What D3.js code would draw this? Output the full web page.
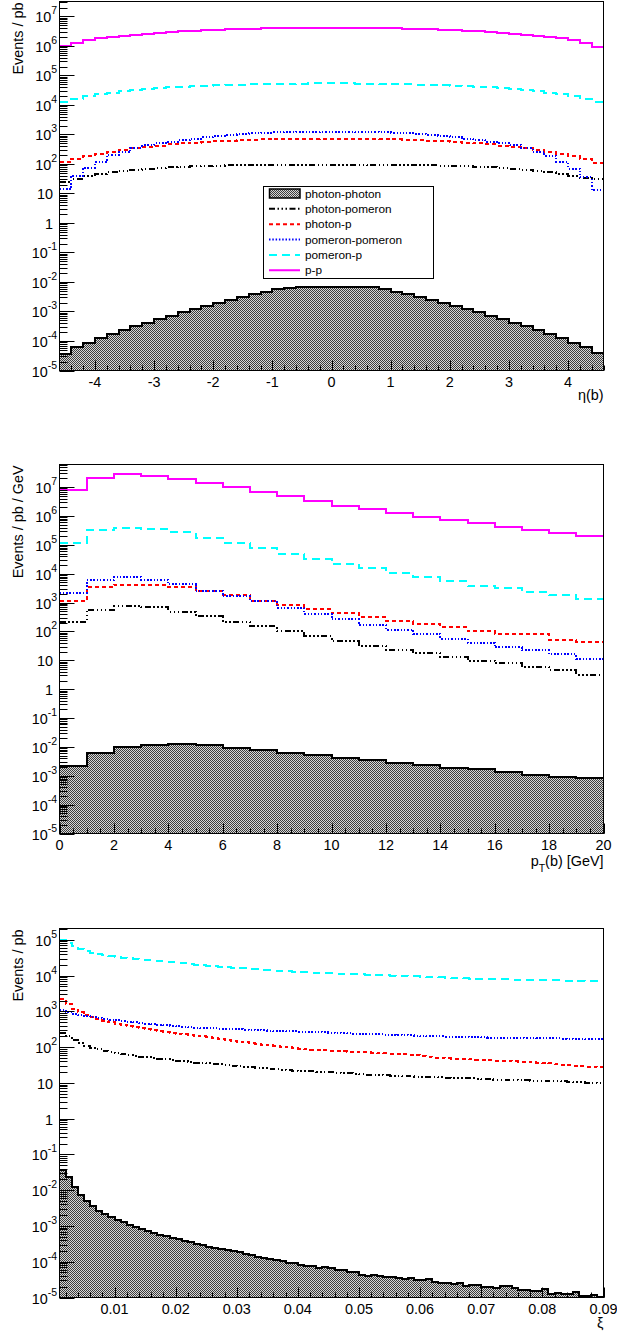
<!DOCTYPE html>
<html>
<head>
<meta charset="utf-8">
<script src="https://cdn.jsdelivr.net/npm/d3@7"></script>
<style>
  body { margin: 0; background: #fff; }
  text { font-family: "Liberation Sans", Arial, Helvetica, sans-serif; fill: #000; }
</style>
</head>
<body>
<div id="chart"></div>
<script>
// Series names, in legend / drawing order
const seriesNames = ["photon-photon", "photon-pomeron", "photon-p", "pomeron-pomeron", "pomeron-p", "p-p"];

// ---- eta(b) panel: 46 bins of 0.2 from -4.6 to 4.6 ----
const etaBinLow = -4.6, etaBinWidth = 0.2;
const etaPhotonPhoton = [3.6e-5, 6.1e-5, 8.8e-5, 1.22e-4, 1.72e-4, 2.4e-4, 3.2e-4, 4.2e-4, 5.5e-4, 7.2e-4,
  9.7e-4, 1.22e-3, 1.54e-3, 2.0e-3, 2.4e-3, 3.1e-3, 3.9e-3, 4.7e-3, 5.6e-3, 6.5e-3,
  6.9e-3, 6.9e-3, 6.9e-3, 6.9e-3, 6.9e-3, 6.9e-3, 6.9e-3, 5.6e-3, 4.7e-3, 3.9e-3,
  3.2e-3, 2.45e-3, 2.0e-3, 1.55e-3, 1.2e-3, 9.5e-4, 7.3e-4, 5.6e-4, 4.2e-4, 3.2e-4,
  2.35e-4, 1.73e-4, 1.24e-4, 8.8e-5, 6.1e-5, 4.0e-5];
const etaPhotonPomeron = [25, 32, 38, 45, 52, 58, 64, 69, 74, 78, 81, 84, 86, 88, 89, 90, 91, 92, 93, 93, 94, 94, 94,
  94, 94, 94, 93, 93, 92, 91, 90, 89, 88, 86, 84, 81, 78, 74, 69, 64, 58, 52, 45, 38, 33, 30];
const etaPhotonP = [115, 150, 185, 220, 260, 300, 340, 380, 420, 460, 500, 535, 565, 600, 625, 645, 665, 680, 695, 705, 710, 715, 720,
  720, 715, 710, 705, 695, 680, 665, 645, 625, 600, 565, 535, 500, 460, 420, 380, 340, 300, 260, 220, 185, 150, 110];
const etaPomeronPomeron = [14, 40, 75, 115, 200, 250, 360, 440, 500, 560, 640, 720, 810, 900, 970, 1030, 1090, 1140, 1180, 1210, 1230, 1250, 1260,
  1260, 1250, 1230, 1210, 1180, 1140, 1090, 1030, 970, 900, 810, 720, 640, 560, 500, 440, 360, 260, 190, 120, 70, 35, 13];
const etaPomeronP = [1.3e4, 1.6e4, 1.95e4, 2.3e4, 2.6e4, 2.9e4, 3.2e4, 3.45e4, 3.7e4, 3.95e4, 4.15e4, 4.3e4, 4.45e4, 4.6e4, 4.75e4, 4.85e4, 4.95e4, 5.05e4, 5.15e4, 5.2e4, 5.3e4, 5.35e4, 5.4e4,
  5.4e4, 5.35e4, 5.3e4, 5.2e4, 5.15e4, 5.05e4, 4.95e4, 4.85e4, 4.75e4, 4.6e4, 4.45e4, 4.3e4, 4.15e4, 3.95e4, 3.7e4, 3.45e4, 3.2e4, 2.9e4, 2.6e4, 2.3e4, 1.95e4, 1.6e4, 1.25e4];
const etaPP = [1.0e6, 1.3e6, 1.55e6, 1.8e6, 2.0e6, 2.2e6, 2.4e6, 2.6e6, 2.8e6, 3.0e6, 3.15e6, 3.3e6, 3.45e6, 3.55e6, 3.65e6, 3.75e6, 3.85e6, 3.95e6, 4.0e6, 4.05e6, 4.1e6, 4.15e6, 4.2e6,
  4.2e6, 4.15e6, 4.1e6, 4.05e6, 4.0e6, 3.95e6, 3.85e6, 3.75e6, 3.65e6, 3.55e6, 3.45e6, 3.3e6, 3.15e6, 3.0e6, 2.8e6, 2.6e6, 2.4e6, 2.2e6, 2.0e6, 1.8e6, 1.55e6, 1.25e6, 0.9e6];

// ---- pT(b) panel: 20 bins of 1 GeV ----
const ptBinLow = 0, ptBinWidth = 1;
const ptPhotonPhoton = [2.1e-3, 6.3e-3, 9.8e-3, 1.17e-2, 1.24e-2, 1.13e-2, 9.3e-3, 8.0e-3, 6.3e-3, 5.2e-3,
  4.1e-3, 3.5e-3, 2.7e-3, 2.3e-3, 1.9e-3, 1.66e-3, 1.3e-3, 1.1e-3, 9.4e-4, 8.3e-4];
const ptPhotonPomeron = [210, 560, 750, 690, 490, 340, 220, 150, 100, 69, 46, 32, 23, 18, 12.6, 9.8, 8.0, 5.8, 4.7, 3.2];
const ptPhotonP = [1170, 3400, 4200, 4200, 3400, 2600, 1800, 1170, 830, 580, 420, 310, 230, 180, 140, 102, 80, 80, 51, 43];
const ptPomeronPomeron = [2200, 5900, 7600, 6200, 4300, 2600, 1660, 1100, 660, 410, 260, 170, 115, 83, 57, 41, 28, 22, 16, 11.2];
const ptPomeronP = [1.15e5, 3.2e5, 3.9e5, 3.6e5, 2.75e5, 1.76e5, 1.15e5, 7.7e4, 4.9e4, 3.3e4, 2.2e4, 1.56e4, 1.07e4, 7.9e3, 5.5e3, 3.9e3, 3.3e3, 2.4e3, 1.8e3, 1.3e3];
const ptPP = [7.7e6, 2.1e7, 2.76e7, 2.5e7, 1.95e7, 1.42e7, 1.0e7, 6.7e6, 4.8e6, 3.3e6, 2.3e6, 1.7e6, 1.3e6, 9.1e5, 7.0e5, 5.6e5, 4.1e5, 3.3e5, 2.6e5, 2.0e5];

// ---- xi panel: 89 bins of 0.001 from 0.001 to 0.09 ----
const xiBinLow = 0.001, xiBinWidth = 0.001;
const xiPhotonPhoton = [3.7e-2, 2.3e-2, 1.26e-2, 7.5e-3, 4.9e-3, 3.5e-3, 2.6e-3, 2.1e-3, 1.76e-3, 1.5e-3,
  1.25e-3, 1.08e-3, 9.3e-4, 8.0e-4, 7.2e-4, 6.3e-4, 5.7e-4, 5.1e-4, 4.7e-4, 4.2e-4,
  3.75e-4, 3.45e-4, 3.2e-4, 2.9e-4, 2.65e-4, 2.45e-4, 2.3e-4, 2.15e-4, 1.97e-4, 1.82e-4,
  1.66e-4, 1.5e-4, 1.35e-4, 1.24e-4, 1.18e-4, 1.14e-4, 1.04e-4, 9.5e-5, 9.1e-5, 7.9e-5,
  7.6e-5, 7.4e-5, 6.8e-5, 6.9e-5, 6.6e-5, 5.9e-5, 6.0e-5, 5.2e-5, 5.0e-5, 4.3e-5,
  4.1e-5, 4.2e-5, 4.0e-5, 3.7e-5, 3.8e-5, 3.6e-5, 3.3e-5, 3.4e-5, 3.15e-5, 3.1e-5,
  3.2e-5, 2.7e-5, 2.5e-5, 2.6e-5, 2.45e-5, 2.5e-5, 2.15e-5, 2.2e-5, 2.3e-5, 1.95e-5,
  2.0e-5, 1.8e-5, 2.15e-5, 2.1e-5, 1.9e-5, 1.6e-5, 1.65e-5, 1.55e-5, 1.5e-5, 1.75e-5,
  1.26e-5, 1.3e-5, 1.28e-5, 1.26e-5, 1.45e-5, 1.12e-5, 1.1e-5, 1.15e-5, 1.05e-5];
const xiPhotonPomeron = [250, 200, 160, 130, 110, 97, 88, 80, 74, 69,
  64, 60, 57, 54, 52, 50, 48, 46, 44, 42,
  40, 38.5, 37, 36, 35, 34, 33, 32, 30.5, 29.5,
  28.5, 27.5, 26.5, 26, 25, 24.5, 23.5, 23, 22, 21.5,
  21, 21, 20.5, 20, 20, 19.5, 19, 18.5, 18, 17.5,
  17, 16.8, 16.5, 16.2, 15.8, 15.5, 15.3, 15.1, 14.9, 14.7,
  14.5, 14.4, 14.2, 14.0, 13.8, 13.6, 13.5, 13.3, 13.1, 12.9,
  12.6, 12.4, 12.2, 12.1, 12.0, 11.8, 11.7, 11.6, 11.5, 11.4,
  11.2, 11.1, 11.0, 10.8, 10.6, 10.4, 10.2, 10.0, 9.8];
const xiPhotonP = [2200, 1650, 1200, 950, 780, 680, 600, 540, 490, 450,
  415, 385, 360, 335, 315, 295, 280, 265, 252, 240,
  229, 220, 211, 203, 193, 182, 172, 162, 151, 142,
  135, 128, 122, 116, 111, 107, 103, 98, 93, 89,
  86, 85, 84, 82, 80, 78, 77, 75, 74, 72,
  71, 70, 68, 67, 66, 65, 63, 61, 59, 56,
  53, 51, 50, 49, 48, 47, 47, 46, 45, 44,
  43, 42, 41, 41, 40, 39, 39, 38, 37, 36,
  35, 33, 32, 31, 30, 29, 28.5, 28, 27.5];
const xiPomeronPomeron = [1100, 970, 860, 790, 740, 690, 650, 620, 590, 560,
  535, 510, 490, 470, 455, 440, 420, 405, 395, 385,
  375, 365, 350, 345, 340, 335, 330, 327, 322, 316,
  310, 304, 298, 292, 288, 284, 280, 277, 275, 272,
  268, 264, 262, 259, 256, 252, 248, 244, 240, 237,
  234, 231, 228, 225, 222, 220, 217, 214, 210, 207,
  203, 201, 199, 197, 195, 192, 190, 189, 187, 186,
  184, 182, 181, 180, 179, 179, 178, 178, 177, 176,
  175, 175, 174, 173, 172, 172, 171, 170, 170];
const xiPomeronP = [1.0e5, 8.3e4, 6.6e4, 5.6e4, 4.9e4, 4.4e4, 4.0e4, 3.7e4, 3.5e4, 3.3e4,
  3.15e4, 3.02e4, 2.9e4, 2.8e4, 2.7e4, 2.62e4, 2.55e4, 2.45e4, 2.37e4, 2.28e4,
  2.2e4, 2.12e4, 2.02e4, 1.95e4, 1.9e4, 1.84e4, 1.78e4, 1.72e4, 1.66e4, 1.62e4,
  1.58e4, 1.54e4, 1.5e4, 1.44e4, 1.4e4, 1.37e4, 1.34e4, 1.31e4, 1.28e4, 1.25e4,
  1.22e4, 1.2e4, 1.18e4, 1.16e4, 1.15e4, 1.13e4, 1.12e4, 1.11e4, 1.1e4, 1.08e4,
  1.07e4, 1.05e4, 1.03e4, 1.02e4, 1.0e4, 9.9e3, 9.8e3, 9.7e3, 9.6e3, 9.4e3,
  9.3e3, 9.1e3, 8.9e3, 8.8e3, 8.6e3, 8.4e3, 8.3e3, 8.2e3, 8.1e3, 8.0e3,
  8.0e3, 7.9e3, 7.8e3, 7.8e3, 7.7e3, 7.6e3, 7.5e3, 7.5e3, 7.4e3, 7.4e3,
  7.3e3, 7.3e3, 7.2e3, 7.2e3, 7.1e3, 7.1e3, 7.0e3, 7.0e3, 7.0e3];

// Line styles per series (ROOT-like)
const seriesStyle = {
  "photon-photon":   {stroke: "#000000", dash: null},
  "photon-pomeron":  {stroke: "#000000", dash: "6,2.5,1.5,2.5,1.5,2.5,1.5,2.5"},
  "photon-p":        {stroke: "#ff0000", dash: "4,3"},
  "pomeron-pomeron": {stroke: "#0000ff", dash: "1.5,1.8"},
  "pomeron-p":       {stroke: "#00ffff", dash: "8,5"},
  "p-p":             {stroke: "#ff00ff", dash: null}
};

const W = 617, H = 1333;
const frameLeft = 59.5, frameRight = 603.5;

const svg = d3.select("#chart").append("svg")
    .attr("width", W)
    .attr("height", H)
    .style("display", "block");

svg.append("rect").attr("width", W).attr("height", H).attr("fill", "#fff");

// Checkered ROOT fill pattern
const defs = svg.append("defs");
const pat = defs.append("pattern")
    .attr("id", "hatch")
    .attr("patternUnits", "userSpaceOnUse")
    .attr("width", 2).attr("height", 2);
pat.append("rect").attr("width", 2).attr("height", 2).attr("fill", "#d6d6d6");
pat.append("rect").attr("x", 0).attr("y", 0).attr("width", 1).attr("height", 1).attr("fill", "#3c3c3c");
pat.append("rect").attr("x", 1).attr("y", 1).attr("width", 1).attr("height", 1).attr("fill", "#3c3c3c");

const panels = [
    {
        top: 1.5, bottom: 370.5, xDomain: [-4.6, 4.6], yMax: 3.22e7,
        binLow: etaBinLow, binWidth: etaBinWidth,
        values: [etaPhotonPhoton, etaPhotonPomeron, etaPhotonP, etaPomeronPomeron, etaPomeronP, etaPP],
        xMajor: d3.range(-4, 5, 1),
        xMinor: d3.range(-23, 24).map(i => i * 0.2),
        fmt: d => String(d),
        xTitle: [{t: "η(b)"}], xTitleY: 400,
        yTitle: "Events / pb", legend: true
    },
    {
        top: 464.5, bottom: 833.5, xDomain: [0, 20], yMax: 6.1e7,
        binLow: ptBinLow, binWidth: ptBinWidth,
        values: [ptPhotonPhoton, ptPhotonPomeron, ptPhotonP, ptPomeronPomeron, ptPomeronP, ptPP],
        xMajor: d3.range(0, 21, 2),
        xMinor: d3.range(0, 41).map(i => i * 0.5),
        fmt: d => String(d),
        xTitle: [{t: "p"}, {t: "T", sub: true}, {t: "(b) [GeV]", back: true}], xTitleY: 866,
        yTitle: "Events / pb / GeV", legend: false
    },
    {
        top: 928.5, bottom: 1297.5, xDomain: [0.001, 0.09], yMax: 2.07e5,
        binLow: xiBinLow, binWidth: xiBinWidth,
        values: [xiPhotonPhoton, xiPhotonPomeron, xiPhotonP, xiPomeronPomeron, xiPomeronP],
        xMajor: d3.range(1, 10).map(i => i / 100),
        xMinor: d3.range(1, 46).map(i => i * 0.002),
        fmt: d3.format(".2f"),
        xTitle: [{t: "ξ"}], xTitleY: 1328,
        yTitle: "Events / pb", legend: false
    }
];

panels.forEach((p, pi) => drawPanel(p, pi));

function drawPanel(p, pi) {
    const x = d3.scaleLinear().domain(p.xDomain).range([frameLeft, frameRight]);
    const y = d3.scaleLog().domain([1e-5, p.yMax]).range([p.bottom, p.top]).clamp(true);

    const g = svg.append("g");

    const clipId = "clip" + pi;
    defs.append("clipPath").attr("id", clipId)
        .append("rect")
        .attr("x", frameLeft).attr("y", p.top)
        .attr("width", frameRight - frameLeft).attr("height", p.bottom - p.top);

    const plot = g.append("g").attr("clip-path", `url(#${clipId})`);

    // Step outline of a histogram
    const stepPath = vals => {
        let d = "";
        vals.forEach((v, i) => {
            const x0 = x(p.binLow + i * p.binWidth);
            const x1 = x(p.binLow + (i + 1) * p.binWidth);
            const yy = y(v);
            d += (i === 0 ? `M${x0},${yy}` : `V${yy}`) + `H${x1}`;
        });
        return d;
    };

    p.values.forEach((vals, si) => {
        const name = seriesNames[si];
        const st = seriesStyle[name];
        if (name === "photon-photon") {
            const area = `M${x(p.binLow)},${p.bottom}` + stepPath(vals).replace(/^M/, "L") + `V${p.bottom}Z`;
            plot.append("path")
                .attr("d", area)
                .attr("fill", "url(#hatch)")
                .attr("stroke", "none");
        }
        plot.append("path")
            .attr("d", stepPath(vals))
            .attr("fill", "none")
            .attr("stroke", st.stroke)
            .attr("stroke-width", 2)
            .attr("stroke-dasharray", st.dash)
            .attr("shape-rendering", "crispEdges");
    });

    // Frame
    g.append("rect")
        .attr("x", frameLeft).attr("y", p.top)
        .attr("width", frameRight - frameLeft).attr("height", p.bottom - p.top)
        .attr("fill", "none")
        .attr("stroke", "#000")
        .attr("stroke-width", 1)
        .attr("shape-rendering", "crispEdges");

    // Y axis ticks (log)
    const kMax = Math.floor(Math.log10(p.yMax));
    const yMinor = [];
    for (let k = -5; k <= kMax; k++) {
        for (let m = 2; m <= 9; m++) {
            if (m * Math.pow(10, k) <= p.yMax) yMinor.push(m * Math.pow(10, k));
        }
    }
    g.selectAll(null).data(yMinor).enter().append("line")
        .attr("x1", frameLeft).attr("x2", frameLeft + 8)
        .attr("y1", d => Math.round(y(d)) + 0.5).attr("y2", d => Math.round(y(d)) + 0.5)
        .attr("stroke", "#000").attr("stroke-width", 1);

    const yMajor = d3.range(-5, kMax + 1);
    g.selectAll(null).data(yMajor).enter().append("line")
        .attr("x1", frameLeft).attr("x2", frameLeft + 15)
        .attr("y1", k => Math.round(y(Math.pow(10, k))) + 0.5).attr("y2", k => Math.round(y(Math.pow(10, k))) + 0.5)
        .attr("stroke", "#000").attr("stroke-width", 1);

    yMajor.forEach(k => {
        const yy = y(Math.pow(10, k));
        const t = g.append("text")
            .attr("text-anchor", "end")
            .attr("font-size", 14.4)
            .attr("y", yy + 6);
        if (k === 0 || k === 1) {
            t.attr("x", 53).text(k === 0 ? "1" : "10");
        } else {
            t.attr("x", 57);
            t.append("tspan").text("10");
            t.append("tspan").attr("font-size", 10.5).attr("dy", -8).text(String(k));
        }
    });

    // X axis ticks
    const xMinor = p.xMinor.filter(v => v >= p.xDomain[0] - 1e-9 && v <= p.xDomain[1] + 1e-9);
    g.selectAll(null).data(xMinor).enter().append("line")
        .attr("x1", d => Math.round(x(d)) + 0.5).attr("x2", d => Math.round(x(d)) + 0.5)
        .attr("y1", p.bottom).attr("y2", p.bottom - 5)
        .attr("stroke", "#000").attr("stroke-width", 1);
    g.selectAll(null).data(p.xMajor).enter().append("line")
        .attr("x1", d => Math.round(x(d)) + 0.5).attr("x2", d => Math.round(x(d)) + 0.5)
        .attr("y1", p.bottom).attr("y2", p.bottom - 10)
        .attr("stroke", "#000").attr("stroke-width", 1);
    g.selectAll(null).data(p.xMajor).enter().append("text")
        .attr("x", d => x(d))
        .attr("y", p.bottom + 16)
        .attr("text-anchor", "middle")
        .attr("font-size", 14.4)
        .text(p.fmt);

    // X title
    const xt = g.append("text")
        .attr("x", frameRight)
        .attr("y", p.xTitleY)
        .attr("text-anchor", "end")
        .attr("font-size", 14.4);
    p.xTitle.forEach(part => {
        const ts = xt.append("tspan").text(part.t);
        if (part.sub) ts.attr("font-size", 10.5).attr("dy", 6);
        if (part.back) ts.attr("dy", -6);
    });

    // Y title
    g.append("text")
        .attr("transform", `translate(23, ${p.top + 1}) rotate(-90)`)
        .attr("text-anchor", "end")
        .attr("font-size", 14.4)
        .text(p.yTitle);

    if (p.legend) drawLegend();
}

function drawLegend() {
    const lg = svg.append("g");
    const bx = 263.5, by = 186, bw = 170, bh = 92.5, rowH = 15.35;
    lg.append("rect")
        .attr("x", bx).attr("y", by).attr("width", bw).attr("height", bh)
        .attr("fill", "#fff").attr("stroke", "#000").attr("stroke-width", 1)
        .attr("shape-rendering", "crispEdges");
    seriesNames.forEach((name, i) => {
        const cy = by + 7.5 + rowH * i;
        const st = seriesStyle[name];
        if (name === "photon-photon") {
            lg.append("rect")
                .attr("x", 269.5).attr("y", cy - 4.5).attr("width", 30.5).attr("height", 9)
                .attr("fill", "url(#hatch)").attr("stroke", "#000").attr("stroke-width", 1.5);
        } else {
            lg.append("line")
                .attr("x1", 269).attr("x2", 300)
                .attr("y1", cy).attr("y2", cy)
                .attr("stroke", st.stroke).attr("stroke-width", 2)
                .attr("stroke-dasharray", st.dash);
        }
        lg.append("text")
            .attr("x", 305).attr("y", cy + 4)
            .attr("font-size", 11.8)
            .text(name);
    });
}
</script>
</body>
</html>
